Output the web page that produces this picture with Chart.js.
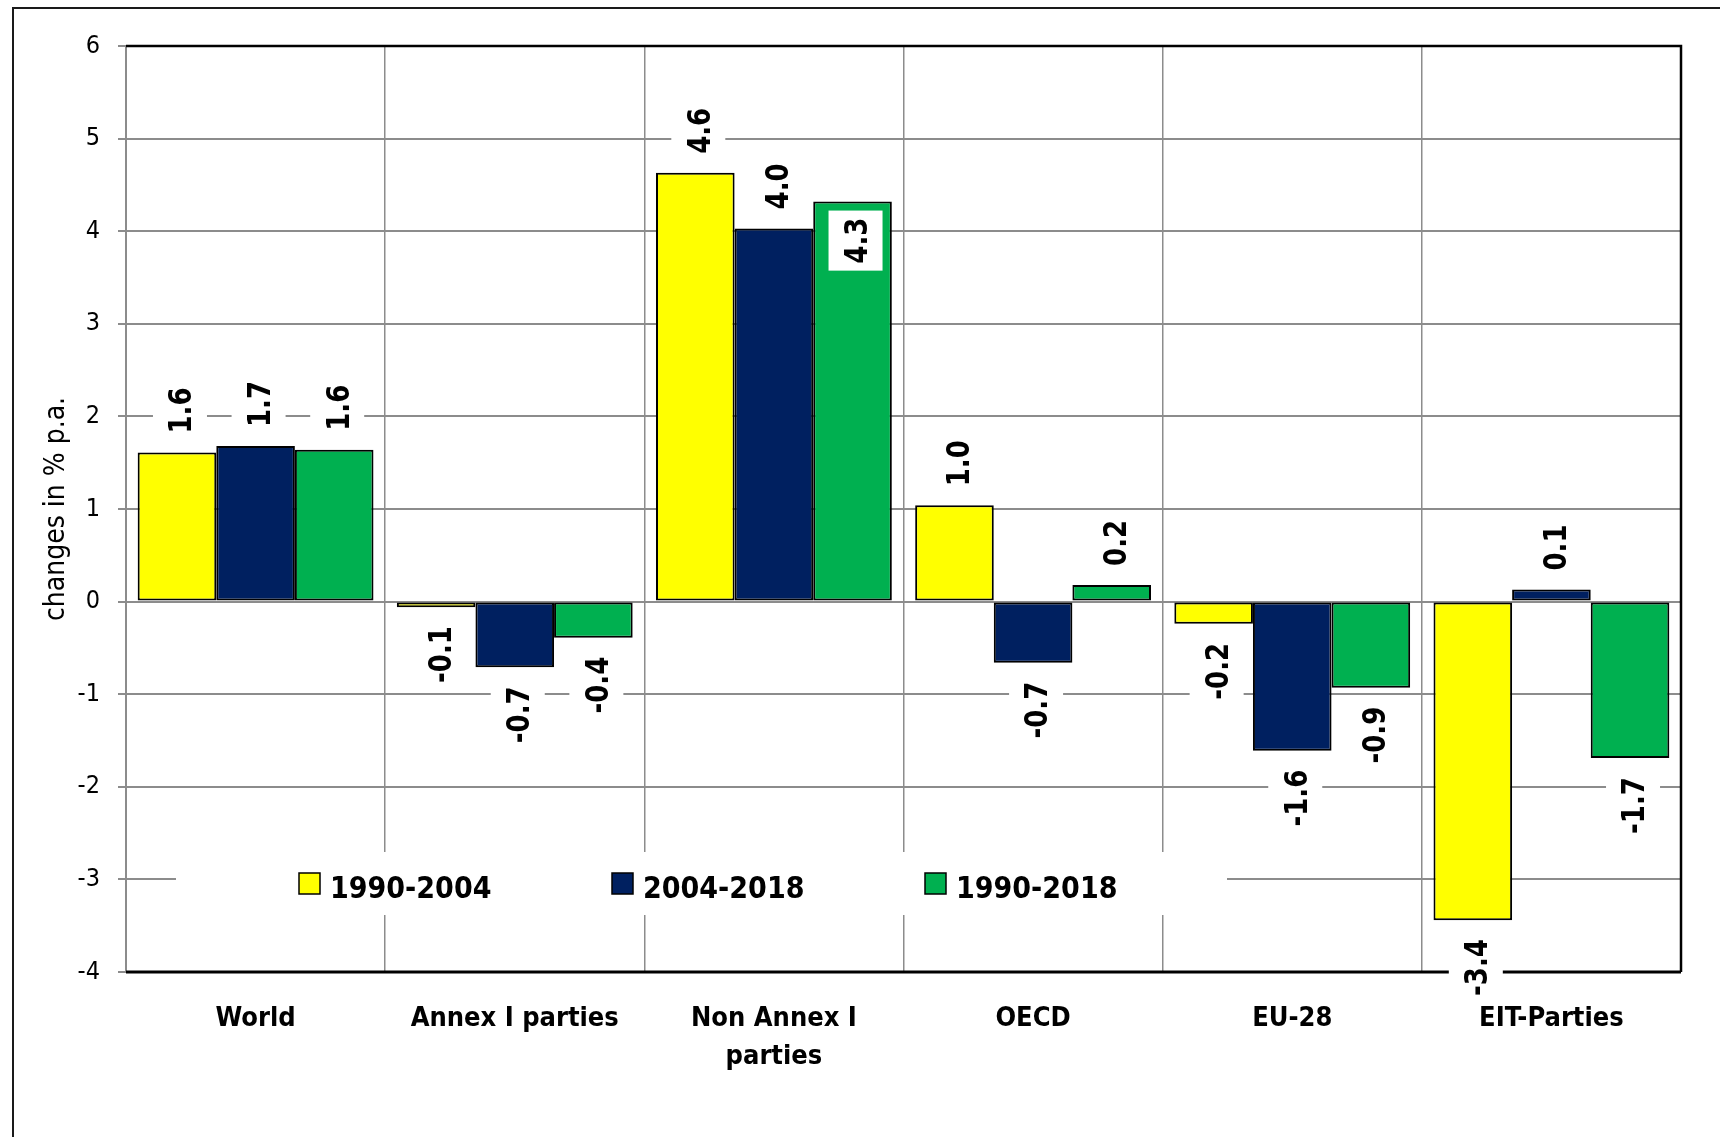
<!DOCTYPE html>
<html>
<head>
<meta charset="utf-8">
<script src="https://cdn.jsdelivr.net/npm/chart.js@4.4.1/dist/chart.umd.min.js"></script>
<style>
  html, body { margin: 0; padding: 0; background: #fff; }
  canvas { display: block; }
</style>
</head>
<body>
<canvas id="chart" width="1720" height="1137"></canvas>
<script>
// Regions on the category axis
const categories = ['World', 'Annex I parties', ['Non Annex I', 'parties'], 'OECD', 'EU-28', 'EIT-Parties'];

// Average annual change, % p.a.
const seriesNames = ['1990-2004', '2004-2018', '1990-2018'];
const values1990to2004 = [1.61, -0.06, 4.63, 1.04, -0.24, -3.44];
const values2004to2018 = [1.68, -0.71, 4.03, -0.66, -1.61, 0.13];
const values1990to2018 = [1.64, -0.39, 4.32, 0.18, -0.93, -1.69];

// Value axis range and tick labels
const yTickLabels = ['-4', '-3', '-2', '-1', '0', '1', '2', '3', '4', '5', '6'];

const seriesColors = ['#FFFF00', '#002060', '#00B050'];
const GRID = '#8c8c8c';
const COND = '"DejaVu Sans Condensed", "DejaVu Sans", sans-serif';

// value labels that sit inside the bar end: [datasetIndex, pointIndex]
const insideLabels = [[2, 2]];

const pageFrame = {
  id: 'pageFrame',
  beforeDraw(chart) {
    const ctx = chart.ctx;
    ctx.save();
    ctx.fillStyle = '#fff';
    ctx.fillRect(0, 0, chart.width, chart.height);
    ctx.strokeStyle = '#1a1a1a';
    ctx.lineWidth = 2;
    ctx.beginPath();
    ctx.moveTo(13, chart.height + 5);
    ctx.lineTo(13, 8);
    ctx.lineTo(chart.width + 5, 8);
    ctx.stroke();
    ctx.restore();
  }
};

const plotFrameAndLegend = {
  id: 'plotFrameAndLegend',
  beforeDatasetsDraw(chart) {
    const ctx = chart.ctx;
    const a = chart.chartArea;
    ctx.save();
    // black edges of the plot area: top, right, and the category axis line
    ctx.strokeStyle = '#000';
    ctx.lineWidth = 2.5;
    ctx.beginPath();
    ctx.moveTo(a.left, a.top);
    ctx.lineTo(a.right, a.top);
    ctx.lineTo(a.right, a.bottom);
    ctx.stroke();
    ctx.lineWidth = 3;
    ctx.beginPath();
    ctx.moveTo(a.left, a.bottom);
    ctx.lineTo(a.right, a.bottom);
    ctx.stroke();

    // legend on a white panel inside the plot area
    const boxL = a.left + 50, boxT = a.bottom - 120, boxW = 1051, boxH = 63;
    ctx.fillStyle = '#fff';
    ctx.fillRect(boxL, boxT, boxW, boxH);
    const sw = 21, itemStep = 313;
    ctx.font = 'bold 30px ' + COND;
    ctx.textBaseline = 'alphabetic';
    ctx.textAlign = 'left';
    chart.data.datasets.forEach((ds, i) => {
      const x = boxL + 123 + i * itemStep;
      const y = boxT + 21;
      ctx.fillStyle = ds.backgroundColor;
      ctx.fillRect(x, y, sw, sw);
      ctx.strokeStyle = '#000';
      ctx.lineWidth = 1.5;
      ctx.strokeRect(x, y, sw, sw);
      ctx.fillStyle = '#000';
      ctx.fillText(ds.label, x + sw + 10, y + 25);
    });
    ctx.restore();
  }
};

const valueLabels = {
  id: 'valueLabels',
  afterDatasetsDraw(chart) {
    const ctx = chart.ctx;
    const size = 26, stretch = 1.2, gap = 19, pad = 7, half = 27;
    ctx.save();
    ctx.font = 'bold ' + size + 'px "DejaVu Sans", sans-serif';
    chart.data.datasets.forEach((ds, di) => {
      const meta = chart.getDatasetMeta(di);
      meta.data.forEach((bar, pi) => {
        const v = ds.data[pi];
        const text = v.toFixed(1);
        const L = ctx.measureText(text).width;
        const inside = insideLabels.some(p => p[0] === di && p[1] === pi);
        const cx = bar.x + 3;
        // start = canvas y where the text begins; text always reads upward
        let start;
        if (v >= 0 && !inside) {
          start = bar.y - gap;
        } else if (v >= 0 && inside) {
          start = bar.y + 16 + L;
        } else {
          start = bar.y + gap + L;
        }
        const y0 = start - L - pad, y1 = start + pad;
        ctx.fillStyle = '#fff';
        ctx.fillRect(cx - half, y0, half * 2, y1 - y0);
        ctx.save();
        ctx.translate(cx, start);
        ctx.rotate(-Math.PI / 2);
        ctx.scale(1, stretch);
        ctx.fillStyle = '#000';
        ctx.textAlign = 'left';
        ctx.textBaseline = 'alphabetic';
        ctx.fillText(text, 0, size * 0.73 / 2);
        ctx.restore();
      });
    });
    ctx.restore();
  }
};

const datasets = [values1990to2004, values2004to2018, values1990to2018].map((vals, i) => ({
  label: seriesNames[i],
  data: vals,
  backgroundColor: seriesColors[i],
  borderColor: '#000',
  borderWidth: 2,
  borderSkipped: false,
  categoryPercentage: 0.91,
  barPercentage: 1.0
}));

new Chart(document.getElementById('chart'), {
  type: 'bar',
  data: { labels: categories, datasets },
  options: {
    responsive: false,
    animation: false,
    devicePixelRatio: 1,
    layout: { padding: { top: 46, right: 39, bottom: 0, left: 0 } },
    plugins: {
      legend: { display: false },
      tooltip: { enabled: false }
    },
    scales: {
      x: {
        grid: { offset: true, color: GRID, lineWidth: 1.5, drawTicks: false },
        border: { display: false },
        ticks: {
          color: '#000',
          padding: 28,
          maxRotation: 0,
          autoSkip: false,
          font: { family: COND, size: 27, weight: 'bold', lineHeight: 1.4 }
        },
        afterFit(scale) { scale.height = 165; }
      },
      y: {
        min: Number(yTickLabels[0]),
        max: Number(yTickLabels[yTickLabels.length - 1]),
        grid: { color: GRID, lineWidth: 2, tickLength: 8, drawTicks: true },
        border: { display: true, color: GRID, width: 2 },
        ticks: {
          stepSize: 1,
          color: '#000',
          padding: 18,
          font: { family: COND, size: 25 },
          callback: (v) => yTickLabels.includes(String(v)) ? String(v) : ''
        },
        title: {
          display: true,
          text: 'changes in % p.a.',
          color: '#000',
          font: { family: COND, size: 28 },
          padding: { top: 40, bottom: 0 }
        },
        afterFit(scale) { scale.width = 126; }
      }
    }
  },
  plugins: [pageFrame, plotFrameAndLegend, valueLabels]
});
</script>
</body>
</html>
